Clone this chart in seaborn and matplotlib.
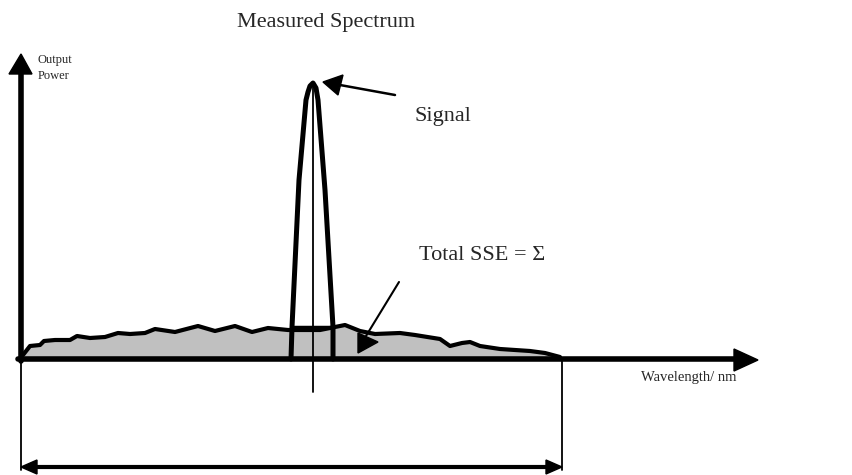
import matplotlib
matplotlib.use("Agg")
import matplotlib.pyplot as plt
import seaborn as sns
import numpy as np

# diagram units = pixels of the 853x475 reference, y pointing down
axis_y = 359
axis_x = 21

# noise floor (amplified spontaneous emission) outline
noise_x = [23, 30, 40, 44, 55, 70, 77, 90, 105, 118, 130, 145, 155, 175, 198, 215,
           235, 252, 268, 288, 300, 320, 335, 345, 360, 375, 400, 415, 440, 450,
           462, 470, 480, 500, 515, 530, 545, 560]
noise_y = [355, 346, 345, 341, 340, 340, 336, 338, 337, 333, 334, 333, 329, 332, 326, 331,
           326, 332, 328, 330, 330, 330, 327, 325, 331, 334, 333, 335, 339, 346,
           343, 342, 346, 349, 350, 351, 353, 357]

# signal peak outline
peak_x = [291, 292, 299, 306, 308, 310, 313, 316, 318, 325, 333, 333]
peak_y = [359, 327, 180, 100, 92, 86, 83, 88, 100, 190, 327, 359]
peak_centre = 313
box_top = 327
band_left, band_right = 21, 562

sns.set_theme(style="white")
plt.rcParams['font.family'] = ['Liberation Serif', 'DejaVu Serif']

fig = plt.figure(figsize=(8.53, 4.75), dpi=100)
ax = fig.add_axes([0, 0, 1, 1])
ax.set_xlim(0, 853)
ax.set_ylim(475, 0)
ax.axis('off')

ax.fill_between(noise_x, noise_y, axis_y, color='#c0c0c0', lw=0, zorder=1)
sns.lineplot(x=noise_x, y=noise_y, sort=False, estimator=None, ax=ax,
             color='black', lw=3, zorder=3)
sns.lineplot(x=peak_x, y=peak_y, sort=False, estimator=None, ax=ax,
             color='black', lw=3.6, zorder=4)
ax.plot([peak_x[1], peak_x[-2]], [box_top, box_top], color='black', lw=2.5, zorder=4)

# thin guide lines
ax.plot([peak_centre, peak_centre], [85, 392], color='black', lw=1.3, zorder=4)
ax.plot([band_left, band_left], [axis_y, 470], color='black', lw=1.3, zorder=2)
ax.plot([band_right, band_right], [axis_y, 470], color='black', lw=1.3, zorder=2)

# axes with arrow heads
ax.plot([axis_x, axis_x], [axis_y + 2, 72], color='black', lw=4, zorder=5)
ax.fill([9, 32, 21], [74, 74, 54], color='black', zorder=5)
ax.plot([18, 736], [axis_y, axis_y], color='black', lw=4, zorder=5)
ax.fill([734, 734, 758], [349, 371, 360], color='black', zorder=5)

# double arrow for the measurement band
ax.plot([band_left + 10, band_right - 10], [467, 467], color='black', lw=3, zorder=5)
ax.fill([band_left, band_left + 16, band_left + 16], [467, 460, 474], color='black', zorder=5)
ax.fill([band_right, band_right - 16, band_right - 16], [467, 460, 474], color='black', zorder=5)

# annotation arrows
ax.plot([395, 340], [95, 85], color='black', lw=1.8, zorder=5)
ax.fill([323, 343, 338], [82, 75, 95], color='black', zorder=5)
ax.plot([399, 366], [282, 336], color='black', lw=1.5, zorder=5)
ax.fill([358, 358, 378], [333, 353, 342], color='black', zorder=5)

ax.text(326, 22, "Measured Spectrum", ha='center', va='center', fontsize=16)
ax.text(415, 117, "Signal", ha='left', va='center', fontsize=16)
ax.text(419, 255, "Total SSE = \u03a3", ha='left', va='center', fontsize=16)
ax.text(38, 54, "Output\nPower", ha='left', va='top', fontsize=9, linespacing=1.4)
ax.text(641, 378, "Wavelength/ nm", ha='left', va='center', fontsize=10.5)

fig.savefig("out.png", dpi=100)
